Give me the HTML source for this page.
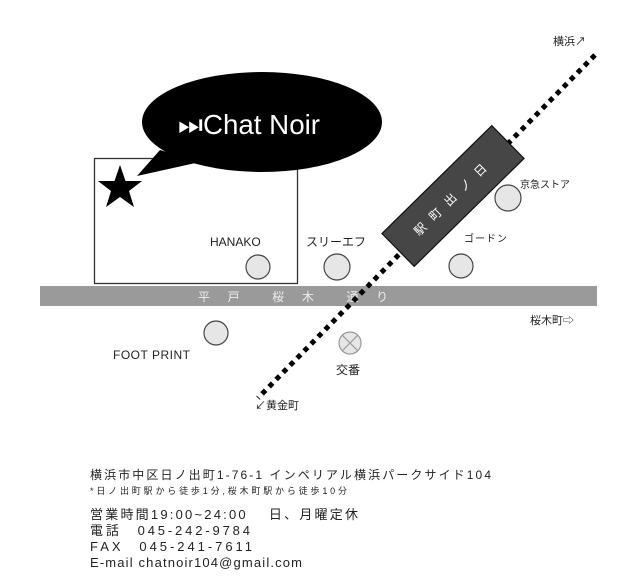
<!DOCTYPE html>
<html><head><meta charset="utf-8"><style>
body{margin:0;background:#fff;width:640px;height:577px;overflow:hidden;font-family:"Liberation Sans","Noto Sans CJK JP",sans-serif;}
</style></head><body>
<svg width="640" height="577" xmlns="http://www.w3.org/2000/svg" font-family="Liberation Sans, Noto Sans CJK JP, sans-serif">
<rect width="640" height="577" fill="#fff"/>
<rect x="40" y="286" width="557" height="20" fill="#9a9a9a"/>
<text x="198" y="301" font-size="12" fill="#eee" textLength="190" lengthAdjust="spacing">平　戸　　桜　木　　通　り</text>
<rect x="94.5" y="158.5" width="203" height="125" fill="none" stroke="#333" stroke-width="1.3"/>
<line x1="595" y1="55" x2="258" y2="398" stroke="#000" stroke-width="5" stroke-dasharray="5 5"/>
<g transform="translate(453,196) rotate(-44.5)">
<rect x="-77" y="-23" width="154" height="46" fill="#464646" stroke="#111" stroke-width="1.2"/>
<text x="0" y="5" font-size="12" fill="#fff" text-anchor="middle" letter-spacing="9">駅町出ノ日</text>
</g>
<path d="M160,150 L137,176 L200,162 Z" fill="#000"/>
<ellipse cx="262" cy="122" rx="120" ry="50" fill="#000"/>
<text x="178" y="134" font-size="28" fill="#fff" textLength="142" lengthAdjust="spacingAndGlyphs">⏭Chat Noir</text>
<polygon points="120,165 125.5,181 142,181 129,191 134,207 120,197 106,207 111,191 98,181 114.5,181" fill="#000"/>
<g fill="#e6e6e6" stroke="#444" stroke-width="1.2">
<circle cx="258" cy="267" r="12"/>
<circle cx="337" cy="267" r="13"/>
<circle cx="461" cy="266" r="12"/>
<circle cx="508" cy="198" r="13"/>
<circle cx="216" cy="333" r="12"/>
<circle cx="350" cy="343" r="11" stroke="#999"/>
</g>
<path d="M342,335 L358,351 M358,335 L342,351" stroke="#999" stroke-width="1.2"/>
<g font-size="12" fill="#222">
<text x="210" y="246">HANAKO</text>
<text x="306" y="246">スリーエフ</text>
<text x="464" y="242" font-size="10" letter-spacing="1">ゴードン</text>
<text x="520" y="188" font-size="10">京急ストア</text>
<text x="530" y="324" font-size="11">桜木町⇨</text>
<text x="113" y="359" letter-spacing="0.5">FOOT PRINT</text>
<text x="336" y="374">交番</text>
<text x="255" y="409" font-size="11">↙黄金町</text>
<text x="553" y="45" font-size="11">横浜↗</text>
</g>
<g fill="#222">
<text x="90" y="479" font-size="12" textLength="401" lengthAdjust="spacing">横浜市中区日ノ出町1-76-1 インペリアル横浜パークサイド104</text>
<text x="90" y="494" font-size="9" textLength="257" lengthAdjust="spacing">*日ノ出町駅から徒歩1分,桜木町駅から徒歩10分</text>
<text x="90" y="519" font-size="13" textLength="268" lengthAdjust="spacing">営業時間19:00~24:00　  日、月曜定休</text>
<text x="90" y="535" font-size="13" textLength="160" lengthAdjust="spacing">電話　045-242-9784</text>
<text x="90" y="551" font-size="13" textLength="162" lengthAdjust="spacing">FAX　045-241-7611</text>
<text x="90" y="567" font-size="13" textLength="212" lengthAdjust="spacing">E-mail chatnoir104@gmail.com</text>
</g>
</svg>
</body></html>
